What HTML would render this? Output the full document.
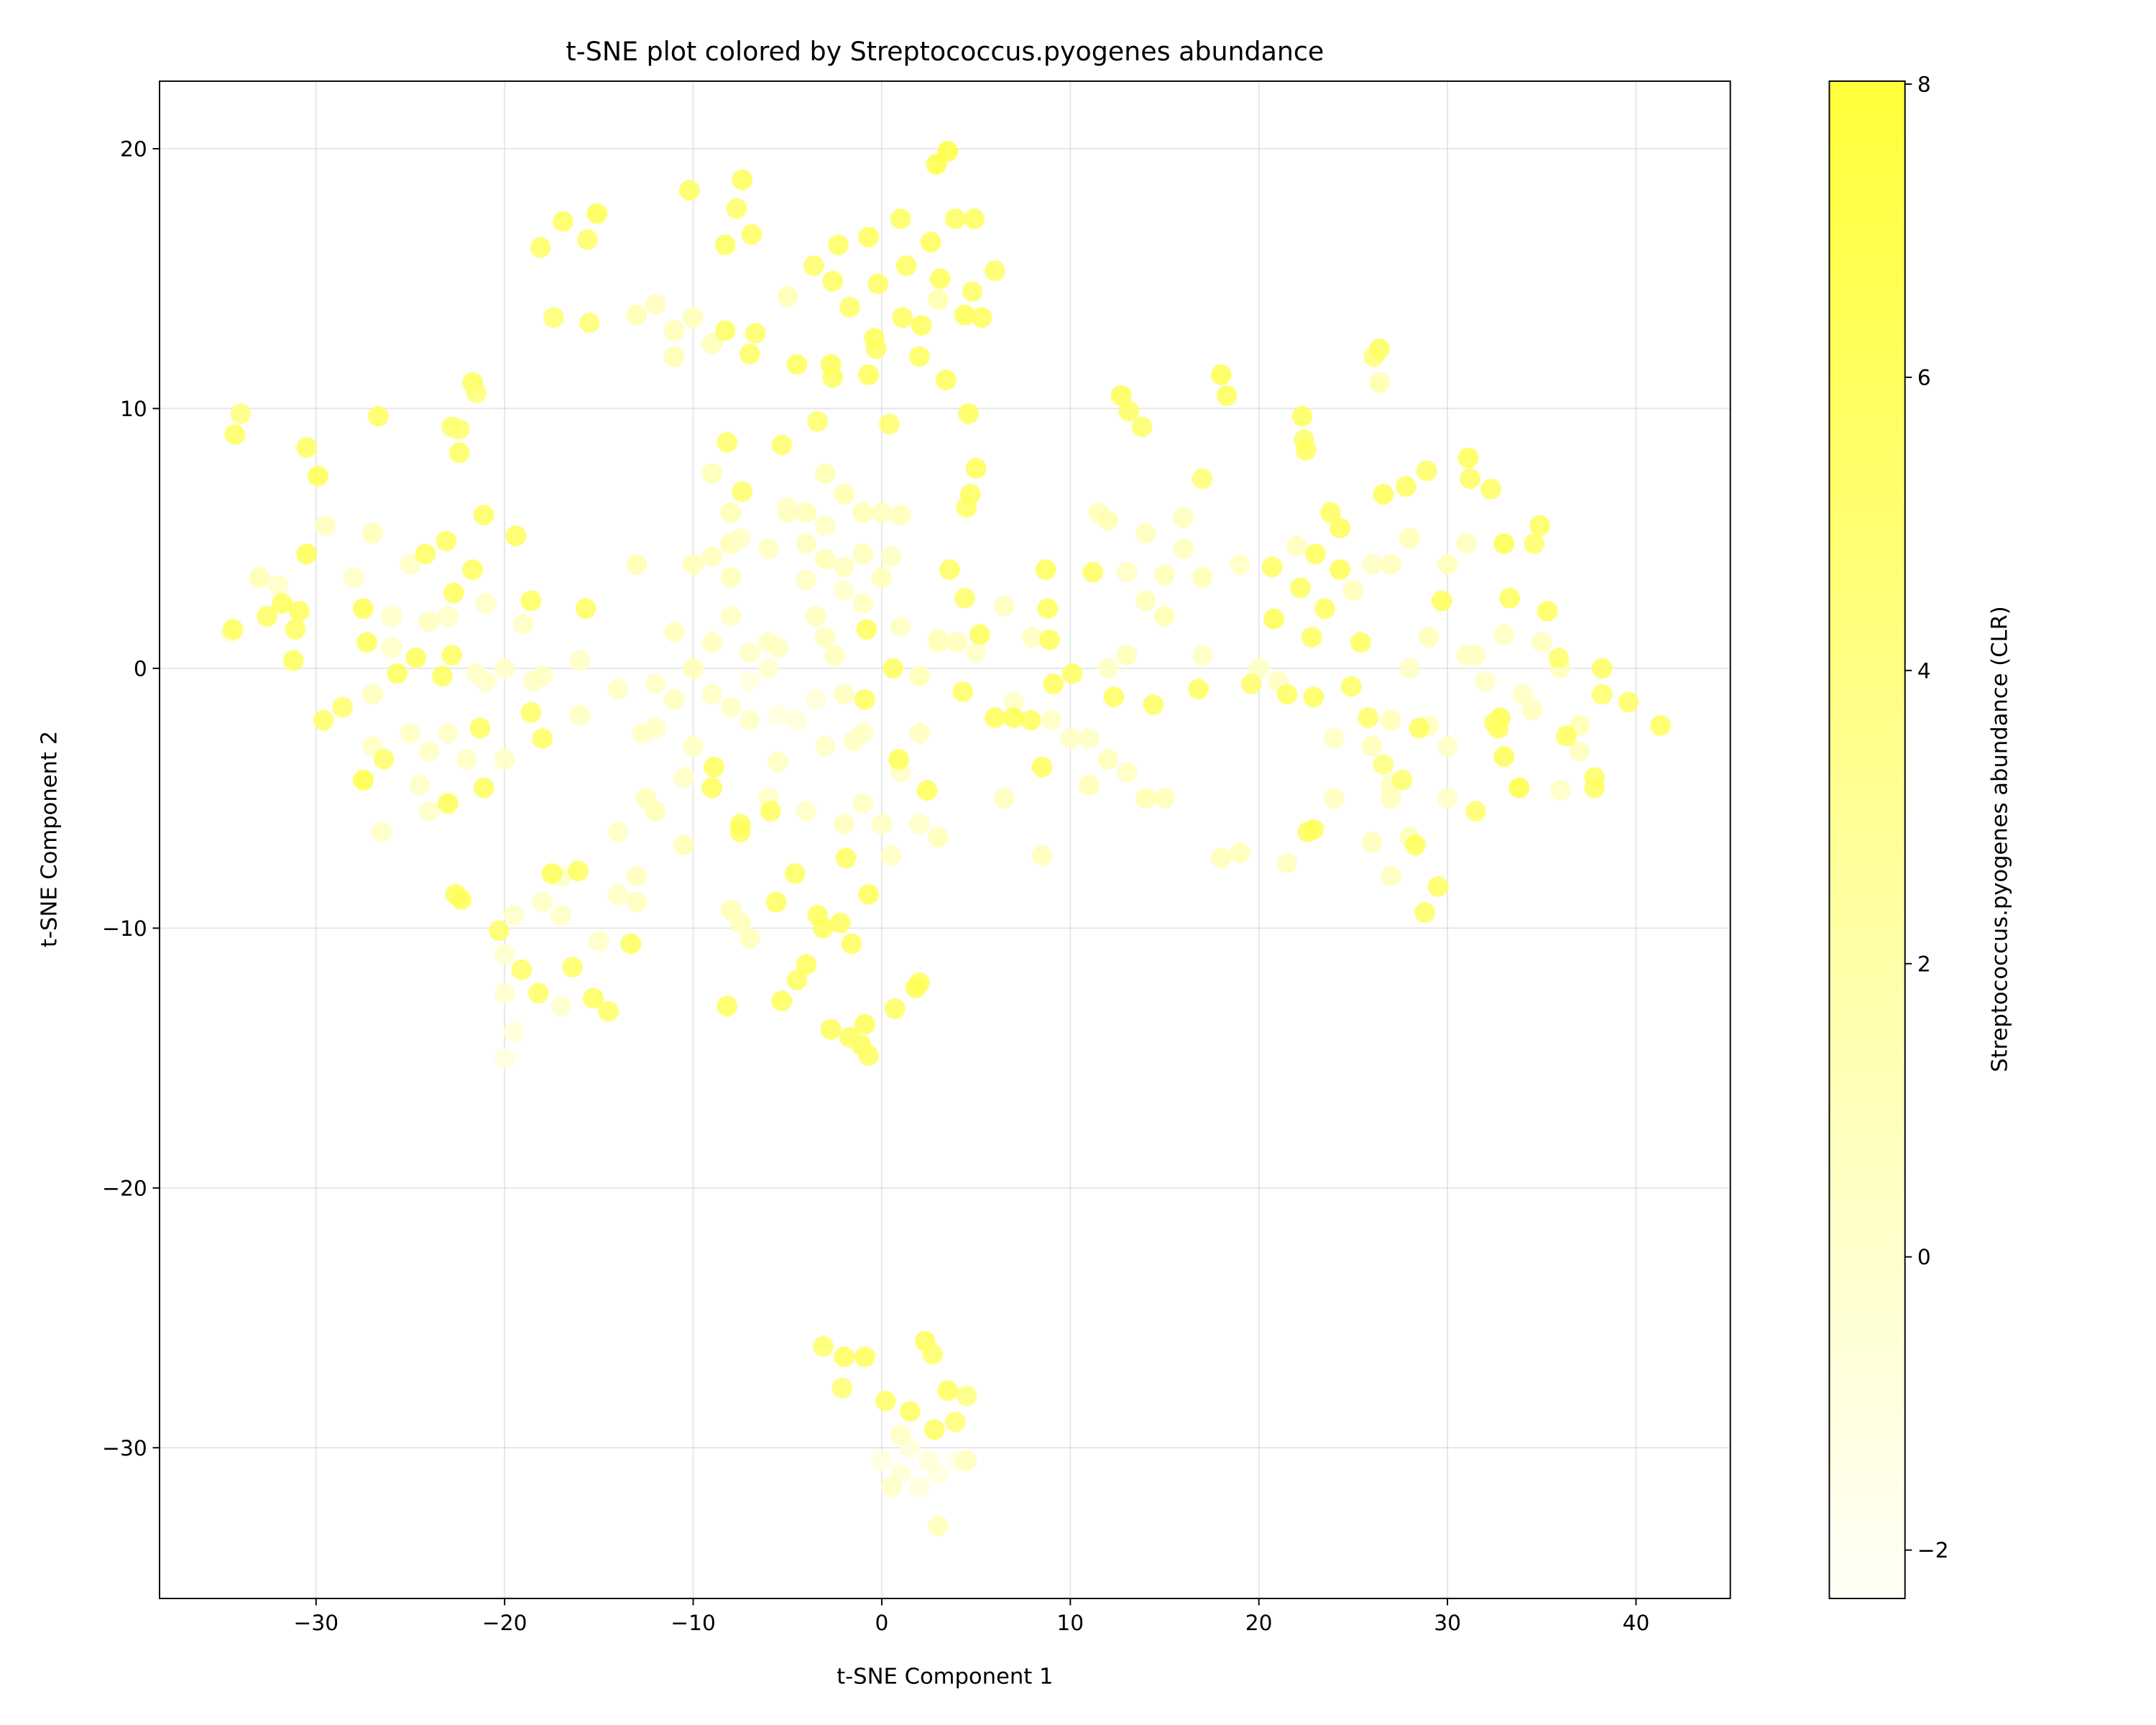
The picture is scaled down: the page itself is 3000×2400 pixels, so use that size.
<!DOCTYPE html>
<html><head><meta charset="utf-8"><style>
html,body{margin:0;padding:0;background:#fff}
svg{display:block}
text{font-family:"DejaVu Sans","Liberation Sans",sans-serif;fill:#000}
</style></head><body>
<svg id="chart" width="3000" height="2400" viewBox="0 0 1567.5 1254" xmlns="http://www.w3.org/2000/svg">
<defs>
<linearGradient id="cbgrad" x1="0" y1="1" x2="0" y2="0">
<stop offset="0" stop-color="rgb(255,255,247)"/>
<stop offset="1" stop-color="rgb(255,255,58)"/>
</linearGradient>
<clipPath id="plotclip"><rect x="116" y="59" width="1142" height="1103"/></clipPath>
</defs>
<rect x="0" y="0" width="1568" height="1254" fill="#fff"/>
<g id="grid"></g>
<g id="points" clip-path="url(#plotclip)"></g>
<rect x="116" y="59" width="1142" height="1103" fill="none" stroke="#000" stroke-width="1"/>
<g id="xticks"></g>
<g id="yticks"></g>
<text x="687" y="44" font-size="19" text-anchor="middle">t-SNE plot colored by Streptococcus.pyogenes abundance</text>
<text x="687" y="1224" font-size="16" text-anchor="middle">t-SNE Component 1</text>
<text x="0" y="0" font-size="16" text-anchor="middle" transform="translate(41,610) rotate(-90)">t-SNE Component 2</text>
<rect x="1330" y="59" width="55" height="1103" fill="url(#cbgrad)" stroke="#000" stroke-width="1"/>
<g id="cbticks"></g>
<text x="0" y="0" font-size="16" text-anchor="middle" transform="translate(1459,610) rotate(-90)">Streptococcus.pyogenes abundance (CLR)</text>
</svg>
<script>
const xTicks=[-30,-20,-10,0,10,20,30,40];
const yTicks=[20,10,0,-10,-20,-30];
const cbTicks=[8,6,4,2,0,-2];
const strongX=[3.5,2.9,-7.4,-10.2,-15.1,-16.9,4.9,3.9,1.0,-0.7,2.6,-6.9,-7.7,-18.1,-15.6,-8.3,-2.3,6.0,-3.6,1.3,-0.2,3.1,4.8,-2.6,-1.7,1.1,4.4,5.3,2.1,-17.4,-15.5,-8.3,-6.7,-0.4,-0.3,-7.0,2.0,-4.5,-2.7,-2.6,-0.7,3.4,-21.7,-21.5,-26.7,-34,-34.3,-30.5,-29.9,-22.8,-22.4,-22.4,-8.2,-5.3,-3.4,0.4,4.6,5.0,4.7,4.5,-7.4,12.7,13.1,13.8,18.0,18.3,22.3,22.4,22.5,17.0,26.1,31.1,31.2,28.9,27.8,26.6,32.3,23.8,24.3,33.0,34.9,23.0,24.3,22.2,20.7,23.5,29.7,33.3,35.3,34.6,20.8,22.8,25.4,35.9,38.2,39.6,41.3,38.2,36.3,32.8,32.7,32.5,33.0,33.8,31.5,37.8,37.8,28.5,25.8,24.9,22.9,21.5,19.6,16.8,14.4,12.3,10.1,9.1,8.9,8.8,8.7,11.2,5.2,4.4,3.6,4.3,6.0,7.0,7.9,8.5,2.4,0.9,0.6,-0.8,-0.9,-8.9,-9.0,-5.9,-7.5,-7.5,-1.9,-4.6,-0.7,-5.6,-3.4,-3.1,-2.2,-1.6,-4.0,-4.5,2.0,1.8,-5.3,-8.2,0.7,-2.7,-0.9,-1.7,-1.1,-0.7,-13.3,-15.3,-14.5,-16.4,-18.2,-19.1,-20.3,-17.5,-16.1,-22.6,-22.3,-21.1,-23.0,-27.5,-26.4,-27.5,-27.3,-25.7,-24.7,-22.8,-23.3,-21.3,-18.6,-18.0,-18.6,-15.7,-21.7,-21.1,-19.4,-23.1,-24.2,-22.7,-30.5,-30.9,-31.1,-31.8,-32.6,-31.2,-34.4,-29.6,-28.6,-3.1,-2.0,-0.9,2.3,2.7,-2.1,0.2,1.5,3.5,4.5,3.9,2.8,22.6,22.9,28.3,29.5,28.8,27.6,26.6,26.4];
const strongY=[19.9,19.4,18.8,18.4,17.5,17.2,17.3,17.3,17.3,16.6,16.4,16.7,17.7,16.2,16.5,16.3,16.3,15.3,15.5,15.5,14.8,15.0,14.5,14.9,13.9,13.5,13.6,13.5,13.2,13.5,13.3,13.0,12.9,12.7,12.3,12.1,12.0,11.7,11.7,11.2,11.3,11.1,11.0,10.6,9.7,9.8,9.0,8.5,7.4,9.3,9.2,8.3,8.7,8.6,9.5,9.4,9.8,7.7,6.7,6.2,6.8,10.5,9.9,9.3,11.3,10.5,9.7,8.8,8.4,7.3,12.0,8.1,7.3,7.6,7.0,6.7,6.9,6.0,5.4,4.8,5.5,4.4,3.8,3.1,3.9,2.3,2.6,2.7,2.2,4.8,1.9,1.2,1.0,0.4,0.0,-1.3,-2.2,-1.0,-2.6,-1.9,-2.3,-2.1,-3.4,-4.6,-5.5,-4.6,-4.2,-2.3,-1.9,-0.7,-1.1,-1.0,-0.6,-0.8,-1.4,-1.1,-0.2,-0.6,1.1,2.3,3.8,3.7,1.3,2.7,3.8,-0.9,-1.9,-1.9,-2.0,-3.8,-4.7,-3.5,0.0,1.5,-1.2,-3.8,-4.6,-5.5,-6.0,-6.3,-7.3,-7.9,-8.7,-9.0,-9.5,-10.0,-9.8,-10.6,-11.4,-12.0,-12.1,-12.3,-12.8,-13.0,-13.1,-13.9,-13.7,-14.2,-14.5,-14.9,-10.6,-12.7,-13.2,-11.5,-12.5,-11.6,-10.1,-7.9,-7.8,-8.7,-8.9,-4.6,-5.2,-4.3,-3.5,2.3,1.0,-0.2,0.4,0.5,-0.3,-2.3,-1.7,-2.7,2.6,2.3,3.8,5.9,5.1,4.9,4.4,2.9,4.4,2.2,1.5,2.5,2.0,0.3,1.5,-2.0,-1.5,-26.1,-26.5,-26.5,-25.9,-26.4,-27.7,-28.2,-28.6,-27.8,-28.0,-29.0,-29.3,-6.3,-6.2,-6.8,-8.4,-9.4,-4.3,-3.7,12.3];
const strongV=[7.8,7.5,6.5,6.2,7,6.2,6.2,6,6.3,6.4,6.5,6,5.8,6,5.6,6.3,6,5.8,5.6,6,6,6.4,5.6,6,5.6,6.3,6.6,6.2,6.4,5.2,5,6,5.6,6.5,6,6,6.2,6.3,6.4,6.3,6.5,6.4,6.2,4.8,6,4.5,6,6,6.8,5.5,5,6,5.6,5.5,5.4,5.3,6.4,6.5,6.2,6,5.5,6.6,6,5.5,6.6,6.2,6.2,5.5,6.2,5,4.8,6.5,6,5.8,6,6.6,6,6,6.4,7,6.2,6.4,6.6,6.2,6,6.2,6.4,6.2,6.4,5.6,6.8,6,6.2,5.5,6,5.8,6.2,5.4,6.2,6.4,6.4,6,6.6,7.6,5.6,6,6,6.2,5.6,5.8,6.2,6,5.6,6,6,6.2,6,6.4,6.4,6.2,6.4,6,6.4,5.6,6,5.8,6.4,6.6,6.2,6.4,6.4,6.6,6,6.4,6.2,6.4,6.4,6.2,6.2,6.4,6,6,6.4,6.2,6.4,6.4,6.2,6.4,6.4,6,6.2,6.6,6.4,6.4,6.2,6.4,6.6,6.2,6,6,6.2,6.4,5.8,5.8,5.8,5.6,5.8,6.4,6.2,6.2,6.4,6.2,6.6,7.6,5.6,6.8,6.3,6.2,6.4,6,6.2,6.2,6,5.8,6.2,6,6.2,6,6.4,6,6,6.2,6.6,6.4,6,6.2,6,6.2,6,5.8,5.4,5.4,6.2,6.4,6.4,5.6,5,5.8,6,6.2,4.6,5,6,6,6.4,6.4,5.8,6,5.2,4.5,6,6,6,6,6,6,6,6];
const faintX=[-11,-12,-13,-10,-9,-5,3,-11,-1,0,1,-3,-9,-2,-8,-5,-4,-13,-10,-8,-4,26.4,28,27,26,30,22,25,19,17,15,14,11.5,12,15,13,17,20,28,31,29,35,36,34,37,27,26,27,28,26,27,30,30,24,24,18,19,14,15,12,13,11,8.5,6.5,11,10,6.5,4,3,8,12,14,13,16,-33,-29.5,-27,-25,-26,-24,-21,-20,-19,-18.5,-27,-25,-24,-23,-22,-24.5,-24,-26.5,-27,-21,-20,-16,-17,-18,-19.5,-20,-20,-19.5,-20,-17,-17,-15,-14,-12.5,-12,-13,-13,-14,-12.7,-12,-11,-10,-10.5,-10.5,-8,-7.5,-7,-6,-5.5,-4,-2,-1,0,0.5,2,3,1,-3,-1.5,-2,2,3,2,-1,-3.5,-2.5,-5.5,-6,-7,-8,-9,-10,-9,-11,-8,-9,-6,-4,-3,-1,0,0.5,-7.5,-3,-5,-2,-4.5,-7,-5.5,-3.5,0,1,2,3,4,1.5,2.5,0.5,3,4.5,1,-34.5,-32,-28,-26,-23,-21.5,-18,-16,-6,-8,-7,-3,-1,1,5,7,9,-12,-14,-2,31.5,32,33,34.5,36,37,27,29,31,21,21.5,16,18.5];
const faintY=[13,14,13.6,13.5,12.5,14.3,14.2,12,6,6,5.9,7.5,7.5,6.7,6,6,6,4,4,4.8,3.4,11,5,4,4,4,4.7,3,4,3.5,3.6,5.2,6,5.7,2,0.5,0.5,0,0,0.5,1.2,1,0,-1,-2.2,-2,-3,-5,-6.5,-6.7,-8,-3,-5,-5,-2.7,-7.3,-7.1,-5,-5,-3.5,-4,-4.5,-7.2,-5,-2.7,-2.7,2.4,1,1.1,1.2,0,2.6,3.7,4.6,3.5,5.5,5.2,4,2,1.8,2.5,0,1.7,-0.5,-1,-2.5,-3.2,-2.5,-3.5,-4.5,-5.5,-6.3,-3,-0.5,-3.5,-1.8,-8,-9,-9.5,-11,-12.5,-14,-15,-13,-9.5,-10.5,-6.3,-5,-5.5,-9,-8,-8.7,-2.5,-0.6,-1.2,-3,-4.2,-6.8,-9.3,-9.8,-10.4,-5,-3.6,-5.5,-6,-5.2,-6,-7.2,-6,-6.5,-4,-3,-2.8,-1,-2.5,1,-0.3,2.5,2,0.5,0.8,0,-2,-1.5,-1,0,1,1.4,3.5,4.3,4.6,4.8,4.2,4.4,3.5,4.3,5,5.5,6.2,3,-2,-0.5,-1.8,-1.2,-30.5,-31,-31.5,-31,-30.5,-30,-30.5,-31.5,-33,-30.5,-29.5,1.4,3.2,3.5,0.8,2,-0.2,-0.3,0.3,1,2,0.6,1.2,-2.5,1.6,0.6,-1.3,-2,-2.3,-0.8,3.9,0.5,-0.5,1.3,-1.6,-4.7,-3.2,-4.5,-2.2,4.8,-0.5,-7.5,5.8];
const faintV=[1.4,1,1.6,1.2,1.4,1.5,2,1.6,1.6,1,1.2,1.6,1.4,1.8,1.6,1.2,1.3,1.6,1.4,1.7,0.8,2,1.4,1.2,0.8,1,1,1.2,0.8,1.6,1.4,1,1.2,1.6,1.8,1.4,0.6,0.8,0.5,0.8,1.2,1,1,0.8,1.6,1.4,1.2,1,1.4,1.2,1,0.6,0.4,1,0.8,1.2,1.4,1.6,1.4,1.2,0.8,1.6,1.2,1.2,0.8,0.6,1,1.2,1.4,1,0.8,1.2,0.8,1,1.6,1,1.2,0.8,0.8,1,0.6,0.4,0.8,0.5,1,0.8,0.6,0.6,0.6,0.5,0.4,0.6,0.6,0.5,0.8,0.8,0.8,0.6,0.3,0,0,-0.4,-0.8,0,0.4,0.4,0.6,1.2,1.4,1,1,0.8,0.6,0.6,1,0.8,0.6,1.4,1.6,1.4,1.2,0.6,0.8,0.6,1,0.8,0.8,0.8,0.6,1.2,0.6,0.4,0.8,1,1,1,1.4,0.8,1,1.1,0.4,0.2,0.6,0.6,0.8,1.2,1,1.2,1.2,1.2,0.8,1,1.4,1.2,1.4,0.8,0.4,0.8,0.4,0.2,-0.6,-0.8,-0.8,-0.6,-0.8,-0.4,-0.6,-0.8,-1,-0.6,-0.4,0.6,1.2,1,0.8,0.8,0.4,0.6,0.8,0.5,0.4,0.6,0.8,0.8,0.6,0.8,1,0.8,0.8,0.4,0.6,0.8,0.6,0.8,1,0.8,0.4,0.8,1,0.8,1,1.2,1,1,1,1,1];

const L=116,R=1258,T=59,B=1162;
const xMin=-38.3,xMax=45.0,yMin=-35.8,yMax=22.6;
const vMin=-2.33,vMax=8.02;
function sx(v){return L+(v-xMin)/(xMax-xMin)*(R-L);}
function sy(v){return B-(v-yMin)/(yMax-yMin)*(B-T);}
function cy(v){return B-(v-vMin)/(vMax-vMin)*(B-T);}
function col(v){if(typeof v!=='number'||isNaN(v))v=1;let t=Math.max(0,Math.min(1,(v-vMin)/(vMax-vMin)));return 'rgb(255,255,'+Math.round(248-t*190)+')';}
const NS='http://www.w3.org/2000/svg';
function mk(tag,attrs,parent){const e=document.createElementNS(NS,tag);for(const k in attrs)e.setAttribute(k,attrs[k]);parent.appendChild(e);return e;}
const grid=document.getElementById('grid'),xt=document.getElementById('xticks'),yt=document.getElementById('yticks'),cb=document.getElementById('cbticks'),pts=document.getElementById('points');
xTicks.forEach(v=>{
  const g=mk('line',{x1:sx(v),x2:sx(v),y1:T,y2:B,stroke:'#b0b0b0','stroke-opacity':0.3,'stroke-width':1},grid);
  
  
  const tk=mk('line',{x1:sx(v),x2:sx(v),y1:B,y2:B+5,stroke:'#000'},xt);
  
  
  const tx=mk('text',{x:sx(v),y:B+23,'font-size':15.5,'text-anchor':'middle'},xt);
  tx.textContent=v<0?'\u2212'+Math.abs(v):String(v);
  
  
});
yTicks.forEach(v=>{
  const g=mk('line',{x1:L,x2:R,y1:sy(v),y2:sy(v),stroke:'#b0b0b0','stroke-opacity':0.3,'stroke-width':1},grid);
  
  
  const tk=mk('line',{x1:L-5,x2:L,y1:sy(v),y2:sy(v),stroke:'#000'},yt);
  
  
  const tx=mk('text',{x:L-9,y:sy(v)+5.5,'font-size':15.5,'text-anchor':'end'},yt);
  tx.textContent=v<0?'\u2212'+Math.abs(v):String(v);
  
  
});
cbTicks.forEach(v=>{
  const tk=mk('line',{x1:1385,x2:1390,y1:cy(v),y2:cy(v),stroke:'#000'},cb);
  
  
  const tx=mk('text',{x:1394,y:cy(v)+5.5,'font-size':15.5},cb);
  tx.textContent=v<0?'\u2212'+Math.abs(v):String(v);
  
  
});
function drawSet(X,Y,V){
  const n=Math.min(X.length,Y.length);
  for(let i=0;i<n;i++){
    const c=mk('circle',{cx:sx(X[i]),cy:sy(Y[i]),r:7.5,fill:col(V[i]),'fill-opacity':0.85},pts);
    
    
  }
}
drawSet(faintX,faintY,faintV);
drawSet(strongX,strongY,strongV);
</script>
</body></html>
